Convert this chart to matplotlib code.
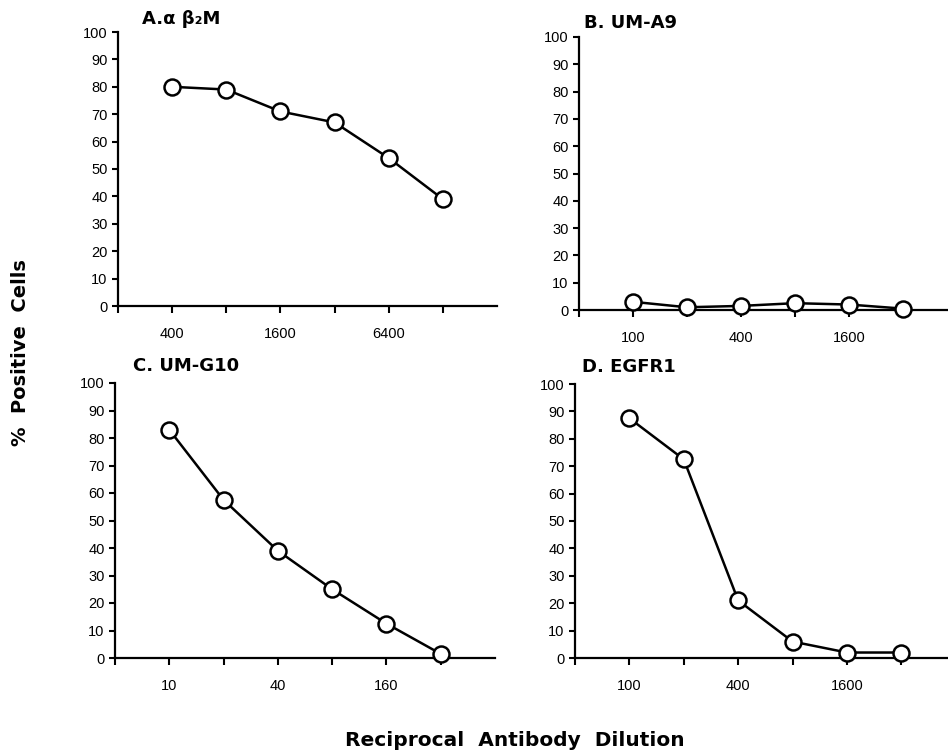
import matplotlib
matplotlib.use("Agg")
import matplotlib.pyplot as plt
from matplotlib.ticker import FixedLocator, FixedFormatter, NullLocator

plt.rcParams['font.family'] = ['Liberation Sans', 'DejaVu Sans']

# ---- data ----
dil_A = [400, 800, 1600, 3200, 6400, 12800]
pos_A = [80, 79, 71, 67, 54, 39]
dil_B = [100, 200, 400, 800, 1600, 3200]
pos_B = [3, 1, 1.5, 2.5, 2, 0.5]
dil_C = [10, 20, 40, 80, 160, 320]
pos_C = [83, 57.5, 39, 25, 12.5, 1.5]
dil_D = [100, 200, 400, 800, 1600, 3200]
pos_D = [87.5, 72.5, 21, 6, 2, 2]

titles = ["A.α β₂M", "B. UM-A9", "C. UM-G10", "D. EGFR1"]
ticks_A = [200, 400, 800, 1600, 3200, 6400, 12800]
labels_A = ["", "400", "", "1600", "", "6400", ""]
ticks_B = [50, 100, 200, 400, 800, 1600, 3200]
labels_B = ["", "100", "", "400", "", "1600", ""]
ticks_C = [5, 10, 20, 40, 80, 160, 320]
labels_C = ["", "10", "", "40", "", "160", ""]
ticks_D = ticks_B
labels_D = labels_B
yticks = list(range(0, 101, 10))

fig = plt.figure(figsize=(9.48, 7.54), dpi=100)

panels = [
    ([118/948, 1-306/754, 379/948, 274/754], dil_A, pos_A, ticks_A, labels_A, (200, 25600), (142/948, 1-19/754)),
    ([579/948, 1-310/754, 369/948, 273/754], dil_B, pos_B, ticks_B, labels_B, (50, 5700), (584/948, 1-23/754)),
    ([115/948, 1-658/754, 380/948, 275/754], dil_C, pos_C, ticks_C, labels_C, (5, 640), (133/948, 1-366/754)),
    ([575/948, 1-658/754, 373/948, 274/754], dil_D, pos_D, ticks_D, labels_D, (50, 5800), (582/948, 1-367/754)),
]

for (rect, xd, yd, tk, lb, xl, tpos), title in zip(panels, titles):
    ax = fig.add_axes(rect)
    ax.set_xscale('log', base=2)
    ax.plot(xd, yd, color='black', lw=1.8, marker='o', markersize=11.5,
            markerfacecolor='white', markeredgecolor='black', markeredgewidth=1.8,
            clip_on=False, zorder=3)
    ax.set_xlim(*xl)
    ax.set_ylim(0, 100)
    ax.xaxis.set_major_locator(FixedLocator(tk))
    ax.xaxis.set_major_formatter(FixedFormatter(lb))
    ax.xaxis.set_minor_locator(NullLocator())
    ax.set_yticks(yticks)
    for s in ['top', 'right']:
        ax.spines[s].set_visible(False)
    for s in ['left', 'bottom']:
        ax.spines[s].set_linewidth(1.6)
    ax.tick_params(axis='both', direction='out', length=4.5, width=1.5,
                   labelsize=10.5, pad=3)
    ax.tick_params(axis='x', length=5, pad=10)
    fig.text(tpos[0], tpos[1], title, fontsize=13, fontweight='bold',
             family=['DejaVu Sans'], ha='left', va='center')

fig.text(21/948, 1-353/754, "%  Positive  Cells", rotation=90, fontsize=14,
         fontweight='bold', family=['DejaVu Sans'], ha='center', va='center')
fig.text(515/948, 1-740/754, "Reciprocal  Antibody  Dilution", fontsize=14.5,
         fontweight='bold', family=['DejaVu Sans'], ha='center', va='center')

fig.savefig("out.png", dpi=100)
